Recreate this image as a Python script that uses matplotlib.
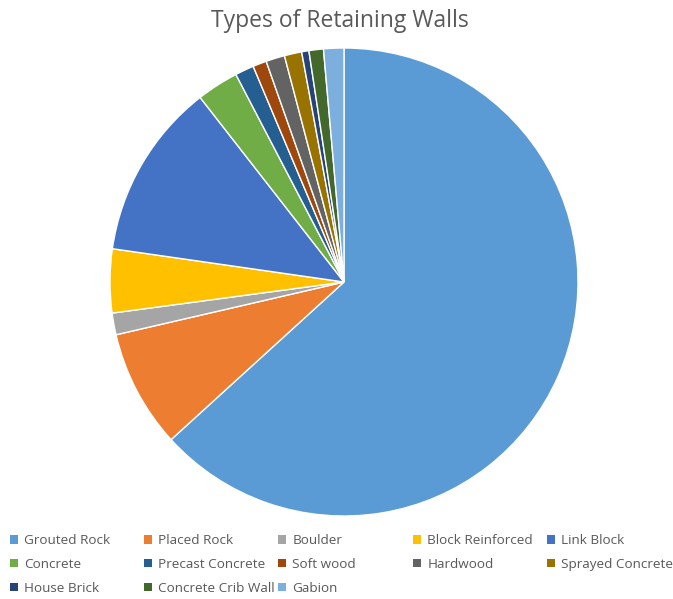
import matplotlib
matplotlib.use("Agg")
import matplotlib.pyplot as plt
from matplotlib.patches import Patch

# Données (pourcentages estimés)
types = ["Grouted Rock", "Placed Rock", "Boulder", "Block Reinforced", "Link Block",
         "Concrete", "Precast Concrete", "Soft wood", "Hardwood", "Sprayed Concrete",
         "House Brick", "Concrete Crib Wall", "Gabion"]
parts = [63.3, 8.15, 1.5, 4.4, 12.2, 2.9, 1.3, 0.95, 1.3, 1.2, 0.5, 1.0, 1.4]
couleurs = ["#5B9BD5", "#ED7D31", "#A5A5A5", "#FFC000", "#4472C4", "#70AD47",
            "#255E91", "#9E480E", "#636363", "#997300", "#264478", "#43682B", "#7CAFDD"]

W, H = 673, 599
fig = plt.figure(figsize=(W / 100, H / 100), dpi=100)

# Camembert : centre (344, 282), rayon 234 px
cx, cy, r = 344, 282, 234
ax = fig.add_axes([(cx - r) / W, (H - cy - r) / H, 2 * r / W, 2 * r / H])
ax.pie(parts, colors=couleurs, startangle=90, counterclock=False,
       wedgeprops=dict(edgecolor="white", linewidth=1))
ax.set_xlim(-1, 1)
ax.set_ylim(-1, 1)
ax.set_aspect("equal")

fig.text(340 / W, 1 - 21 / H, "Types of Retaining Walls", ha="center", va="center",
         fontsize=16.5, color="#595959", family="Open Sans")

# Légende : 5 colonnes régulièrement espacées, remplies ligne par ligne
ncol = 5
col_x = [14, 148, 282, 417, 551]
for c in range(ncol):
    idx = list(range(c, len(types), ncol))
    handles = [Patch(facecolor=couleurs[i], edgecolor="none") for i in idx]
    labels = [types[i] for i in idx]
    fig.legend(handles, labels, loc="upper left",
               bbox_to_anchor=((col_x[c] - 4) / W, 1 - 534 / H),
               frameon=False, handlelength=0.6, handleheight=0.6,
               handletextpad=0.45, labelspacing=0.8, borderpad=0, borderaxespad=0,
               labelcolor="#595959", prop={"family": "Open Sans", "size": 9.7})

fig.savefig("out.png", dpi=100)
